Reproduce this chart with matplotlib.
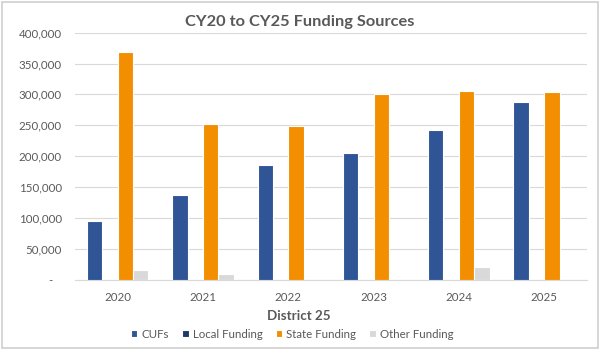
import matplotlib.pyplot as plt
import numpy as np
from matplotlib.patches import FancyBboxPatch

plt.rcParams["font.family"] = ["Lato", "DejaVu Sans"]

# Funding by calendar year
years = ["2020", "2021", "2022", "2023", "2024", "2025"]
cufs = [95500, 137500, 185000, 205500, 241500, 287000]
local_funding = [0, 0, 0, 0, 0, 0]
state_funding = [368500, 252000, 249000, 301000, 305000, 304000]
other_funding = [16000, 9500, 0, 0, 20500, 0]

series_names = ["CUFs", "Local Funding", "State Funding", "Other Funding"]
series_colors = ["#2F5597", "#1F3864", "#F28E00", "#D9D9D9"]

text_gray = "#595959"
grid_gray = "#D9D9D9"

fig = plt.figure(figsize=(6, 3.5), dpi=100)
ax = fig.add_axes([0.125, 0.2014, 0.853, 0.7052])

x = np.arange(len(years))
slot = 0.18
for i, (vals, name, color) in enumerate(
    zip([cufs, local_funding, state_funding, other_funding], series_names, series_colors)
):
    offset = (i - 1.5) * slot
    ax.bar(x + offset, vals, width=slot, color=color, edgecolor="white",
           linewidth=0.8, label=name, zorder=3)

ax.set_xlim(-0.5, len(years) - 0.5)
ax.set_ylim(0, 400000)
yticks = np.arange(0, 400001, 50000)
ax.set_yticks(yticks)
# accounting style: zero shown as a dash
ax.set_yticklabels(["-   " if v == 0 else f"{v:,}" for v in yticks])
ax.set_xticks(x)
ax.set_xticklabels(years)

ax.grid(axis="y", color=grid_gray, linewidth=0.8, zorder=0)
for side in ["top", "right", "left"]:
    ax.spines[side].set_visible(False)
ax.spines["bottom"].set_color(grid_gray)
ax.spines["bottom"].set_linewidth(0.8)
ax.tick_params(axis="both", length=0, colors=text_gray, labelsize=8.3)
ax.tick_params(axis="x", pad=9)
ax.tick_params(axis="y", pad=9.5)

fig.text(0.5, 0.937, "CY20 to CY25 Funding Sources", ha="center", va="center",
         fontsize=11.8, fontweight="bold", color=text_gray)
fig.text(0.498, 0.097, "District 25", ha="center", va="center",
         fontsize=9.6, fontweight="bold", color=text_gray)

leg = fig.legend(loc="center", bbox_to_anchor=(0.487, 0.045), ncol=4, frameon=False,
                 fontsize=8.3, handlelength=0.55, handleheight=0.55, handletextpad=0.35,
                 columnspacing=1.15, labelcolor=text_gray)

# light border around the chart
border = FancyBboxPatch((0.003, 0.005), 0.994, 0.99, boxstyle="square,pad=0",
                        transform=fig.transFigure, fill=False, edgecolor="#D0D0D0",
                        linewidth=1.2)
fig.patches.append(border)

plt.savefig("out.png", dpi=100)
